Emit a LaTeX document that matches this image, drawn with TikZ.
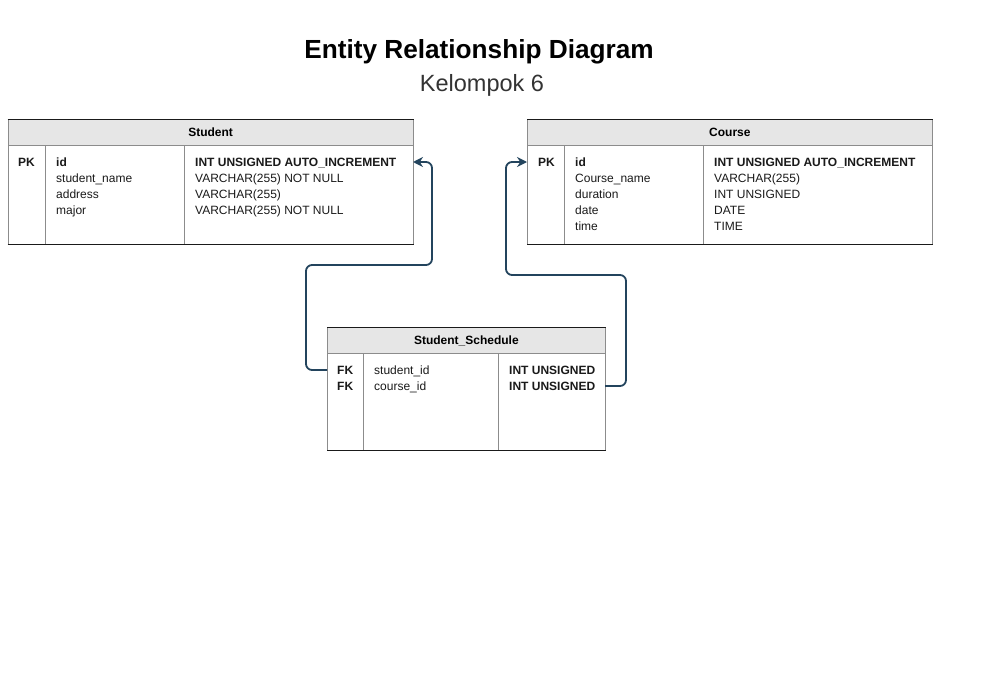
\documentclass[tikz,border=0pt]{standalone}
\usepackage{fontspec}
\setmainfont{Liberation Sans}
\usetikzlibrary{arrows.meta}
\definecolor{hdr}{HTML}{E6E6E6}
\definecolor{side}{HTML}{8C8C8C}
\definecolor{edge}{HTML}{1A1A1A}
\definecolor{conncol}{HTML}{23445D}
\definecolor{sub}{HTML}{333333}
\definecolor{txt}{HTML}{1A1A1A}
\tikzset{
  x=1pt,y=-1pt,
  tbl/.style={draw=side,fill=white,line width=0.8pt,anchor=north west,inner sep=0pt},
  hdrbox/.style={draw=side,fill=hdr,line width=0.8pt,anchor=north west,inner sep=0pt,minimum height=26pt,font=\fontsize{12}{14}\selectfont\bfseries},
  cell/.style={anchor=west,inner sep=0pt,text height=9pt,text depth=3pt,text=txt,font=\fontsize{12}{16}\selectfont,align=left},
  bcell/.style={cell,font=\fontsize{12}{16}\selectfont\bfseries},
  divider/.style={draw=side,line width=0.8pt},
  edgeline/.style={draw=edge,line width=1pt},
  conn/.style={draw=conncol,line width=1.8pt,rounded corners=6pt,-{Stealth[length=10pt,width=10pt]}}
}
\begin{document}
\begin{tikzpicture}
\useasboundingbox (0,0) rectangle (987,685);
% title
\node[font=\fontsize{26.2}{30}\selectfont\bfseries] (title) at (479,51.5) {Entity Relationship Diagram};
\node[font=\fontsize{23.5}{27}\selectfont,text=sub] (subtitle) at (482,85.5) {Kelompok 6};

% ---------- Student ----------
\node[tbl,minimum width=405.5pt,minimum height=125pt] (student) at (7.5,119) {};
\node[hdrbox,minimum width=405.5pt] (studenthdr) at (7.5,119) {Student};
\draw[divider] (45,145) -- (45,244);
\draw[divider] (184,145) -- (184,244);
\draw[edgeline] (student.north west) -- (student.north east);
\draw[edgeline] (student.south west) -- (student.south east);
\node[bcell] (spk) at (18,163.5) {PK};
\node[bcell] (sid) at (56,163.5) {id};
\node[cell] (sname) at (56,179.5) {student\_name};
\node[cell] (saddr) at (56,195.5) {address};
\node[cell] (smajor) at (56,211.5) {major};
\node[bcell] (sidt) at (195,163.5) {INT UNSIGNED AUTO\_INCREMENT};
\node[cell] (snamet) at (195,179.5) {VARCHAR(255) NOT NULL};
\node[cell] (saddrt) at (195,195.5) {VARCHAR(255)};
\node[cell] (smajort) at (195,211.5) {VARCHAR(255) NOT NULL};

% ---------- Course ----------
\node[tbl,minimum width=405pt,minimum height=125pt] (course) at (527,119) {};
\node[hdrbox,minimum width=405pt] (coursehdr) at (527,119) {Course};
\draw[divider] (564,145) -- (564,244);
\draw[divider] (703,145) -- (703,244);
\draw[edgeline] (course.north west) -- (course.north east);
\draw[edgeline] (course.south west) -- (course.south east);
\node[bcell] (cpk) at (538,163.5) {PK};
\node[bcell] (cid) at (575,163.5) {id};
\node[cell] (cname) at (575,179.5) {Course\_name};
\node[cell] (cdur) at (575,195.5) {duration};
\node[cell] (cdate) at (575,211.5) {date};
\node[cell] (ctime) at (575,227.5) {time};
\node[bcell] (cidt) at (714,163.5) {INT UNSIGNED AUTO\_INCREMENT};
\node[cell] (cnamet) at (714,179.5) {VARCHAR(255)};
\node[cell] (cdurt) at (714,195.5) {INT UNSIGNED};
\node[cell] (cdatet) at (714,211.5) {DATE};
\node[cell] (ctimet) at (714,227.5) {TIME};

% ---------- Student_Schedule ----------
\node[tbl,minimum width=278pt,minimum height=123pt] (sched) at (327,327) {};
\node[hdrbox,minimum width=278pt] (schedhdr) at (327,327) {Student\_Schedule};
\draw[divider] (363,353) -- (363,450);
\draw[divider] (498,353) -- (498,450);
\draw[edgeline] (sched.north west) -- (sched.north east);
\draw[edgeline] (sched.south west) -- (sched.south east);
\node[bcell] (fk1) at (337,371.5) {FK};
\node[bcell] (fk2) at (337,387.5) {FK};
\node[cell] (ssid) at (374,371.5) {student\_id};
\node[cell] (scid) at (374,387.5) {course\_id};
\node[bcell] (ssidt) at (509,371.5) {INT UNSIGNED};
\node[bcell] (scidt) at (509,387.5) {INT UNSIGNED};

% ---------- connectors ----------
\coordinate (a1) at (327,370);
\coordinate (a2) at (413,162);
\coordinate (b1) at (605,386);
\coordinate (b2) at (527,162);
\draw[conn] (a1) -- (306,370) -- (306,265) -- (432,265) -- (432,162) -- (a2);
\draw[conn] (b1) -- (626,386) -- (626,275) -- (506,275) -- (506,162) -- (b2);
\end{tikzpicture}
\end{document}
